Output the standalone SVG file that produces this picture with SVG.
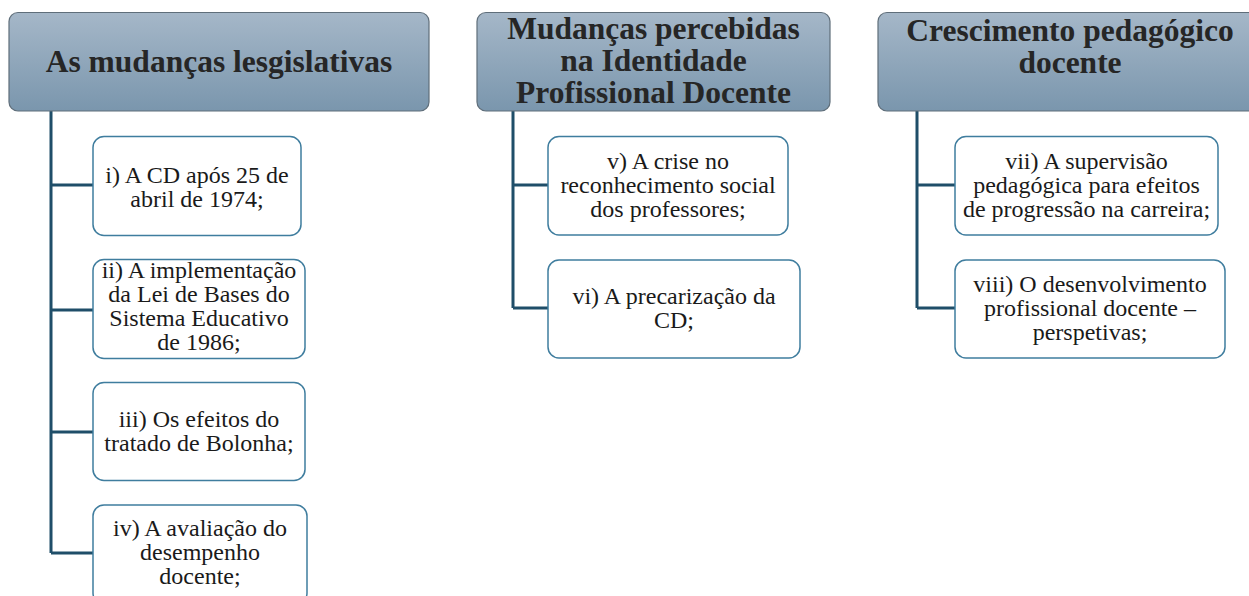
<svg xmlns="http://www.w3.org/2000/svg" width="1249" height="596" viewBox="0 0 1249 596">
<defs>
<linearGradient id="hg" x1="0" y1="0" x2="0" y2="1">
<stop offset="0" stop-color="#A5B7C8"/>
<stop offset="1" stop-color="#7A96AD"/>
</linearGradient>
<style>
.hdr{fill:url(#hg);stroke:#5F6E7A;stroke-width:1.2}
.ht{font-family:"Liberation Serif","Times New Roman",serif;font-weight:bold;font-size:31.5px;fill:#262626;text-anchor:middle}
.box{fill:#FFFFFF;stroke:#3F7D9E;stroke-width:1.5}
.bt{font-family:"Liberation Serif","Times New Roman",serif;font-size:24px;fill:#1A1A1A;text-anchor:middle}
.con{fill:none;stroke:#1F4E69;stroke-width:3}
</style>
</defs>
<rect width="1249" height="596" fill="#FFFFFF"/>
<g id="connectors">
<path class="con" d="M51,111 V553 M51,185 H93 M51,310 H93 M51,432 H93 M51,553 H93"/>
<path class="con" d="M513,111 V308 M513,185 H548 M513,308 H548"/>
<path class="con" d="M917,111 V308 M917,185 H955 M917,308 H955"/>
</g>
<g id="h1">
<rect class="hdr" x="9" y="12.5" width="420" height="98.5" rx="9"/>
<text class="ht" x="219" y="72">As mudanças lesgislativas</text>
</g>
<g id="h2">
<rect class="hdr" x="477" y="12.5" width="353" height="98.5" rx="9"/>
<text class="ht" x="653.5" y="39">Mudanças percebidas</text>
<text class="ht" x="653.5" y="71">na Identidade</text>
<text class="ht" x="653.5" y="103">Profissional Docente</text>
</g>
<g id="h3">
<rect class="hdr" x="878" y="12.5" width="384" height="98.5" rx="9"/>
<text class="ht" x="1070" y="41">Crescimento pedagógico</text>
<text class="ht" x="1070" y="73">docente</text>
</g>
<g id="n1">
<rect class="box" x="93" y="136.5" width="208" height="99" rx="11"/>
<text class="bt" x="197" y="182.5">i) A CD após 25 de</text>
<text class="bt" x="197" y="206.5">abril de 1974;</text>
</g>
<g id="n2">
<rect class="box" x="93" y="259.5" width="212" height="99" rx="11"/>
<text class="bt" x="199" y="278">ii) A implementação</text>
<text class="bt" x="199" y="302">da Lei de Bases do</text>
<text class="bt" x="199" y="326">Sistema Educativo</text>
<text class="bt" x="199" y="350">de 1986;</text>
</g>
<g id="n3">
<rect class="box" x="93" y="382.5" width="212" height="98" rx="11"/>
<text class="bt" x="199" y="426.5">iii) Os efeitos do</text>
<text class="bt" x="199" y="450.5">tratado de Bolonha;</text>
</g>
<g id="n4">
<rect class="box" x="93" y="505" width="214" height="99" rx="11"/>
<text class="bt" x="200" y="535.5">iv) A avaliação do</text>
<text class="bt" x="200" y="559.5">desempenho</text>
<text class="bt" x="200" y="583.5">docente;</text>
</g>
<g id="n5">
<rect class="box" x="548" y="136.5" width="240" height="98.5" rx="11"/>
<text class="bt" x="668" y="168.5">v) A crise no</text>
<text class="bt" x="668" y="192.5">reconhecimento social</text>
<text class="bt" x="668" y="216.5">dos professores;</text>
</g>
<g id="n6">
<rect class="box" x="548" y="260" width="252" height="98" rx="11"/>
<text class="bt" x="674" y="303.5">vi) A precarização da</text>
<text class="bt" x="674" y="327.5">CD;</text>
</g>
<g id="n7">
<rect class="box" x="955" y="136.5" width="263" height="98.5" rx="11"/>
<text class="bt" x="1086.5" y="168.5">vii) A supervisão</text>
<text class="bt" x="1086.5" y="192.5">pedagógica para efeitos</text>
<text class="bt" x="1086.5" y="216.5">de progressão na carreira;</text>
</g>
<g id="n8">
<rect class="box" x="955" y="260" width="270" height="98" rx="11"/>
<text class="bt" x="1090" y="291.5">viii) O desenvolvimento</text>
<text class="bt" x="1090" y="315.5">profissional docente –</text>
<text class="bt" x="1090" y="339.5">perspetivas;</text>
</g>
</svg>
